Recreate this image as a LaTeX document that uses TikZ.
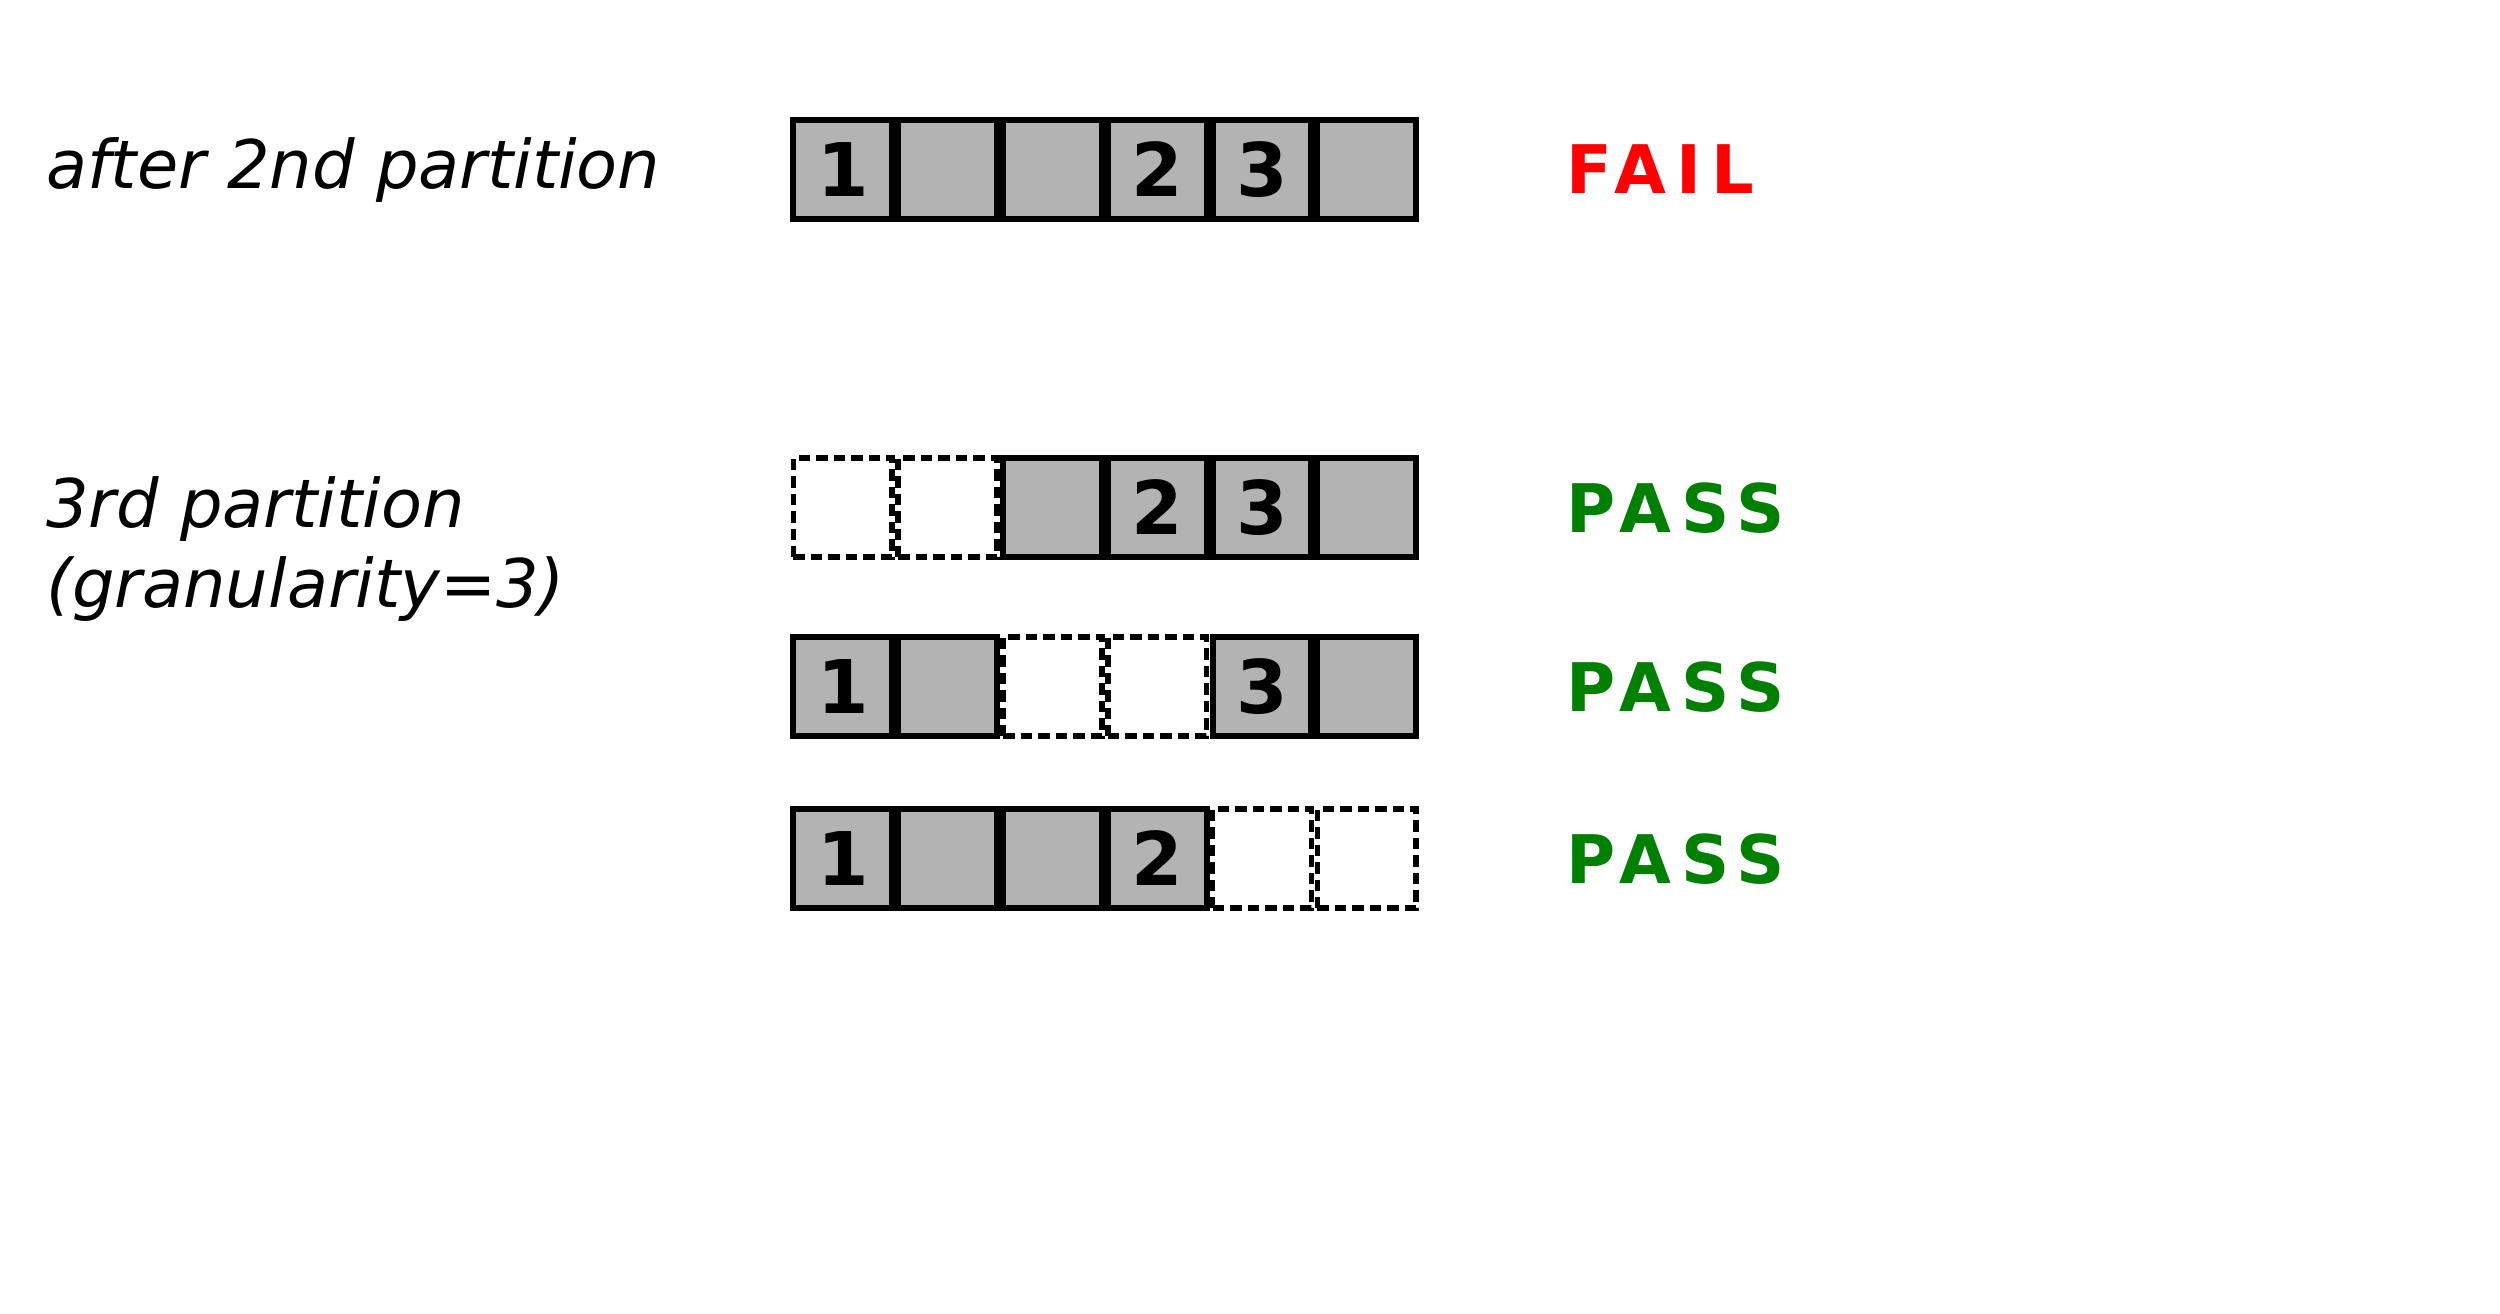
\documentclass[tikz,border=0pt]{standalone}
\usepackage{fontspec}
\setmainfont{DejaVu Sans}
\setsansfont{DejaVu Sans}
\definecolor{cellgray}{HTML}{B3B3B3}
\definecolor{passgreen}{HTML}{008000}
\definecolor{failred}{HTML}{FF0000}
\begin{document}
\begin{tikzpicture}[x=1pt,y=-1pt,
  cellbase/.style={rectangle,minimum width=98.8pt,minimum height=99pt,inner sep=0pt,outer sep=0pt,
    line width=6pt,font=\fontsize{74}{80}\selectfont\bfseries},
  fullcell/.style={cellbase,draw=black,fill=cellgray},
  emptycell/.style={cellbase,draw=black,fill=white,line width=5.5pt,dash pattern=on 11.5pt off 6pt},
  rowlabel/.style={anchor=base west,inner sep=0pt,font=\fontsize{67}{80}\selectfont\itshape},
  verdict/.style={anchor=base west,inner sep=0pt,font=\fontsize{67}{80}\selectfont\bfseries\addfontfeature{LetterSpace=15}},
]
\useasboundingbox (0,0) rectangle (2500,1314);
\fill[white] (0,0) rectangle (2500,1314);

% labels
\node[rowlabel] (lab1) at (46,188) {after 2nd partition};
\node[rowlabel] (lab2) at (46,527) {3rd partition};
\node[rowlabel] (lab3) at (46,607) {(granularity=3)};

% row 1
\node[fullcell] (a1) at (842.8,169.5) {1};
\node[fullcell] (a2) at (947.6,169.5) {};
\node[fullcell] (a3) at (1052.4,169.5) {};
\node[fullcell] (a4) at (1157.2,169.5) {2};
\node[fullcell] (a5) at (1262.0,169.5) {3};
\node[fullcell] (a6) at (1366.8,169.5) {};

% row 2
\node[emptycell] (b1) at (842.8,507.5) {};
\node[emptycell] (b2) at (947.6,507.5) {};
\node[fullcell] (b3) at (1052.4,507.5) {};
\node[fullcell] (b4) at (1157.2,507.5) {2};
\node[fullcell] (b5) at (1262.0,507.5) {3};
\node[fullcell] (b6) at (1366.8,507.5) {};

% row 3
\node[fullcell] (c1) at (842.8,686.5) {1};
\node[fullcell] (c2) at (947.6,686.5) {};
\node[emptycell] (c3) at (1052.4,686.5) {};
\node[emptycell] (c4) at (1157.2,686.5) {};
\node[fullcell] (c5) at (1262.0,686.5) {3};
\node[fullcell] (c6) at (1366.8,686.5) {};

% row 4
\node[fullcell] (d1) at (842.8,858.5) {1};
\node[fullcell] (d2) at (947.6,858.5) {};
\node[fullcell] (d3) at (1052.4,858.5) {};
\node[fullcell] (d4) at (1157.2,858.5) {2};
\node[emptycell] (d5) at (1262.0,858.5) {};
\node[emptycell] (d6) at (1366.8,858.5) {};

% verdicts
\node[verdict,text=failred] (v1) at (1566,193) {FAIL};
\node[verdict,text=passgreen] (v2) at (1566,532) {PASS};
\node[verdict,text=passgreen] (v3) at (1566,711) {PASS};
\node[verdict,text=passgreen] (v4) at (1566,883) {PASS};
\end{tikzpicture}
\end{document}
